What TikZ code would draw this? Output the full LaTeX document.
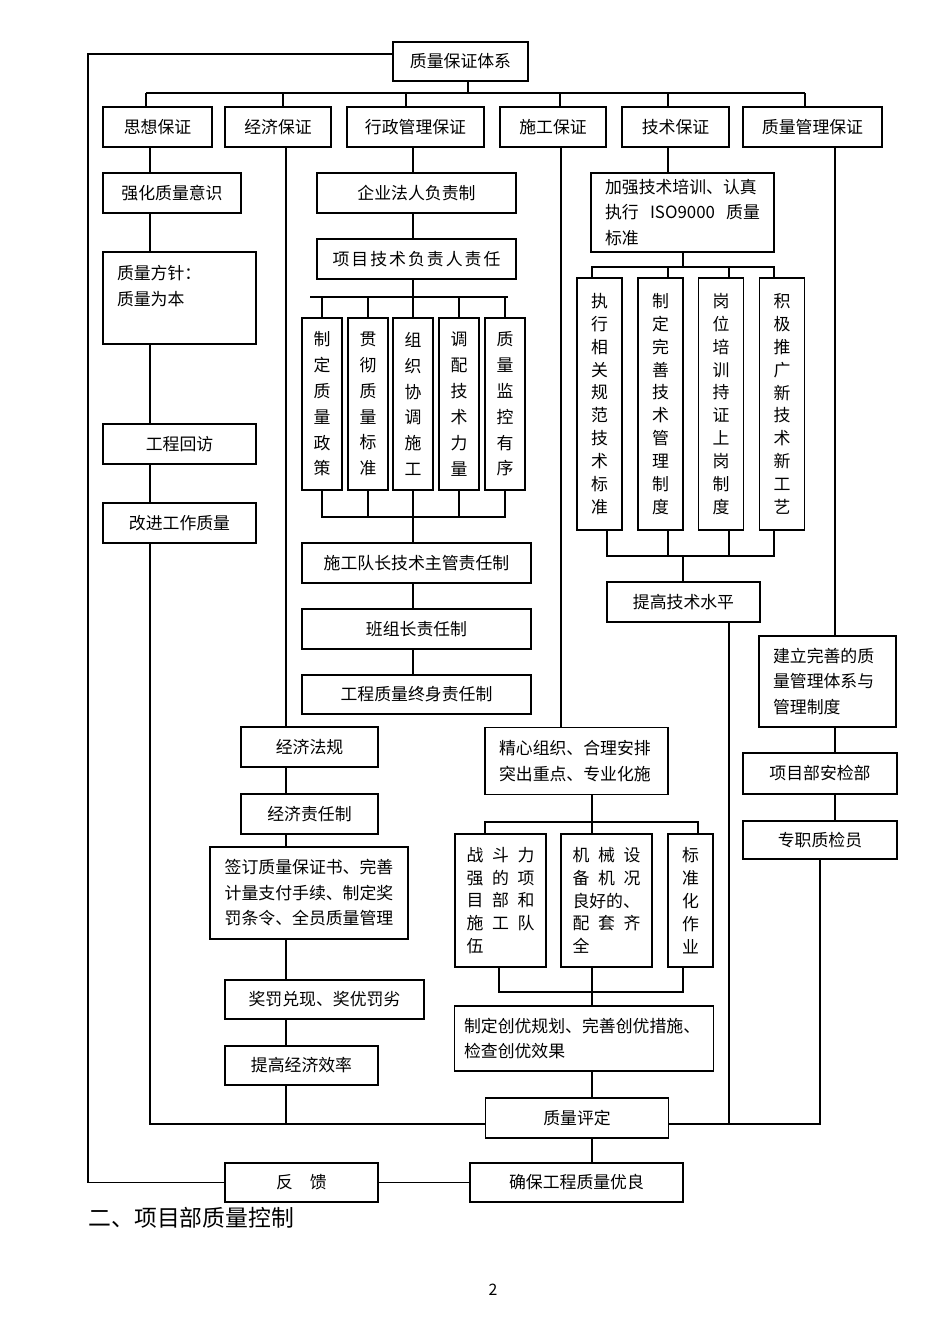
\documentclass[tikz,border=0pt]{standalone}
\usepackage{fontspec}
\setmainfont{Noto Sans CJK SC}
\usetikzlibrary{calc}

\begin{document}
\begin{tikzpicture}[x=0.02cm,y=-0.02cm,line width=0.7pt,
    box/.style={draw,inner sep=0pt,align=center,font=\fontsize{9.6}{14.5}\selectfont},
    wh/.style 2 args={minimum width=#1*0.02cm,minimum height=#2*0.02cm},
    colbox/.style={box,wh={40}{172},font=\fontsize{9.6}{14.7}\selectfont},
    techbox/.style={box,wh={45}{252},font=\fontsize{9.6}{13}\selectfont},
    subbox/.style={box,wh={91}{133},align=left,text width=1.36cm,font=\fontsize{9.6}{13}\selectfont}]
  \useasboundingbox (0,0) rectangle (950,1344);

  % top rows
  \node[box,wh={135}{39}] (top) at (460.5,61.5) {质量保证体系};
  \node[box,wh={109}{40}] (sx) at (157.5,127) {思想保证};
  \node[box,wh={106}{40}] (jj) at (278,127) {经济保证};
  \node[box,wh={137}{40}] (xz) at (415.5,127) {行政管理保证};
  \node[box,wh={106}{40}] (sg) at (553,127) {施工保证};
  \node[box,wh={107}{40}] (js) at (675.5,127) {技术保证};
  \node[box,wh={139}{40}] (zg) at (812.5,127) {质量管理保证};

  % left column
  \node[box,wh={138}{40}] (qh) at (172,193) {强化质量意识};
  \node[box,wh={153}{92},align=left,text width=2.5cm] (fz) at (179.5,298) {质量方针：\\质量为本\\\mbox{}};
  \node[box,wh={153}{40}] (hf) at (179.5,444) {工程回访};
  \node[box,wh={153}{40}] (gj) at (179.5,523) {改进工作质量};

  % economy
  \node[box,wh={137}{40}] (jf) at (309.5,747) {经济法规};
  \node[box,wh={137}{40}] (jr) at (309.5,814) {经济责任制};
  \node[box,wh={198}{92},text width=3.5cm] (qd) at (309,893) {签订质量保证书、完善\\计量支付手续、制定奖\\罚条令、全员质量管理};
  \node[box,wh={199}{39}] (jc) at (324.5,999.5) {奖罚兑现、奖优罚劣};
  \node[box,wh={153}{39}] (tx) at (301.5,1065.5) {提高经济效率};

  % administration
  \node[box,wh={199}{40}] (qy) at (416.5,193) {企业法人负责制};
  \node[box,wh={199}{40}] (xm) at (416.5,259) {\addfontfeature{LetterSpace=12}项目技术负责人责任};
  \foreach \i/\x/\t in {1/322/{制\\定\\质\\量\\政\\策},2/368/{贯\\彻\\质\\量\\标\\准},
      3/413/{组\\织\\协\\调\\施\\工},4/459/{调\\配\\技\\术\\力\\量},5/505/{质\\量\\监\\控\\有\\序}}
    \node[colbox] (a\i) at (\x,404) {\t};
  \node[box,wh={229}{40}] (sd) at (416.5,563) {施工队长技术主管责任制};
  \node[box,wh={229}{40}] (bz) at (416.5,629) {班组长责任制};
  \node[box,wh={229}{39}] (zs) at (416.5,694.5) {工程质量终身责任制};

  % construction
  \node[box,wh={183}{67},align=left,text width=3.1cm] (jx) at (576.5,761) {精心组织、合理安排\\突出重点、专业化施};
  \node[subbox] (z1) at (500.5,900.5) {战\hfill 斗\hfill 力\\强\hfill 的\hfill 项\\目\hfill 部\hfill 和\\施\hfill 工\hfill 队\\伍};
  \node[subbox] (z2) at (606.5,900.5) {机\hfill 械\hfill 设\\备\hfill 机\hfill 况\\良好的、\\配\hfill 套\hfill 齐\\全};
  \node[box,wh={45}{133},font=\fontsize{9.6}{13}\selectfont] (z3) at (690.5,900.5) {标\\准\\化\\作\\业};
  \node[box,wh={259}{65},align=left,text width=4.8cm] (cy) at (584,1038.5) {制定创优规划、完善创优措施、\\检查创优效果};
  \node[box,wh={183}{40}] (pd) at (577,1118) {质量评定};
  \node[box,wh={213}{39}] (qb) at (576.5,1182.5) {确保工程质量优良};
  \node[box,wh={153}{39}] (fk) at (301.5,1182.5) {反\hspace{1em}馈};

  % technology
  \node[box,wh={183}{79},align=left,text width=3.1cm] (jq) at (682.5,212.5) {加强技术培训、认真\\执行\hfill ISO9000\hfill 质量\\标准};
  \foreach \i/\x/\t in {1/599.5/{执\\行\\相\\关\\规\\范\\技\\术\\标\\准},2/660.5/{制\\定\\完\\善\\技\\术\\管\\理\\制\\度},
      3/721/{岗\\位\\培\\训\\持\\证\\上\\岗\\制\\度},4/782/{积\\极\\推\\广\\新\\技\\术\\新\\工\\艺}}
    \node[techbox] (t\i) at (\x,404) {\t};
  \node[box,wh={153}{40}] (tj) at (683.5,602) {提高技术水平};

  % quality management
  \node[box,wh={137}{91},align=left,text width=2.18cm] (jl) at (827.5,681.5) {建立完善的质\\量管理体系与\\管理制度};
  \node[box,wh={154}{41}] (aj) at (820,773.5) {项目部安检部};
  \node[box,wh={154}{38}] (zz) at (820,840) {专职质检员};

  \node[anchor=west,inner sep=0pt,font=\fontsize{13}{13}\selectfont] (sec) at (88,1218) {二、项目部质量控制};
  \node[font=\fontsize{9}{9}\selectfont] (pg) at (493,1290) {2};

  % columns
  \coordinate (cA) at (150,0);
  \coordinate (cB) at (286,0);
  \coordinate (cC) at (413,0);
  \coordinate (cD) at (561,0);
  \coordinate (cD2) at (592,0);
  \coordinate (cE) at (668,0);
  \coordinate (cE2) at (683,0);
  \coordinate (cE3) at (729,0);
  \coordinate (cF) at (835,0);
  \coordinate (pw) at ($(pd.west)+(0,6)$);
  \coordinate (pe) at ($(pd.east)+(0,6)$);

  % top bus
  \foreach \n/\x in {sx/146,jj/283,xz/406,sg/560,js/668,zg/805}{
    \coordinate (d\n) at (\x,93);
    \draw (d\n) -- (d\n |- \n.north);
  }
  \coordinate (dtop) at (468,93);
  \draw (dtop |- top.south) -- (dtop);
  \draw (dsx) -- (dzg);

  % left
  \draw (sx.south -| cA) -- (qh.north -| cA) (qh.south -| cA) -- (fz.north -| cA)
    (fz.south -| cA) -- (hf.north -| cA) (hf.south -| cA) -- (gj.north -| cA);
  \draw (gj.south -| cA) |- (pw);

  % economy
  \draw (jj.south -| cB) -- (jf.north -| cB) (jf.south -| cB) -- (jr.north -| cB)
    (jr.south -| cB) -- (qd.north -| cB) (qd.south -| cB) -- (jc.north -| cB)
    (jc.south -| cB) -- (tx.north -| cB) (tx.south -| cB) -- (cB |- pw);

  % administration
  \coordinate (ab0) at (310,297);
  \coordinate (ab1) at (508,297);
  \coordinate (ac) at (0,517);
  \draw (xz.south -| cC) -- (qy.north -| cC) (qy.south -| cC) -- (xm.north -| cC)
    (xm.south -| cC) -- (a3.north);
  \draw (ab0) -- (ab1);
  \foreach \i in {1,2,4,5} \draw (a\i.north) -- (a\i.north |- ab0);
  \draw (a1.south) -- (a1.south |- ac) -| (a5.south);
  \foreach \i in {2,4} \draw (a\i.south) -- (a\i.south |- ac);
  \draw (a3.south) -- (sd.north -| cC) (sd.south -| cC) -- (bz.north -| cC)
    (bz.south -| cC) -- (zs.north -| cC);

  % construction
  \coordinate (cb0) at (485,822);
  \coordinate (cb1) at (698,822);
  \coordinate (cc0) at (499,992);
  \coordinate (cc1) at (683,992);
  \draw (sg.south -| cD) -- (jx.north -| cD);
  \draw (jx.south -| cD2) -- (cD2 |- cb0);
  \draw (cb0 |- z1.north) -- (cb0) -- (cb1) -- (cb1 |- z3.north);
  \draw (cD2 |- cb0) -- (z2.north -| cD2);
  \draw (cc0 |- z1.south) -- (cc0) -- (cc1) -- (cc1 |- z3.south);
  \draw (z2.south -| cD2) -- (cy.north -| cD2) (cy.south -| cD2) -- (pd.north -| cD2)
    (pd.south -| cD2) -- (qb.north -| cD2);

  % technology
  \coordinate (tb0) at (592,267);
  \coordinate (tb1) at (774,267);
  \coordinate (td0) at (607,556);
  \coordinate (td1) at (774,556);
  \draw (js.south -| cE) -- (jq.north -| cE);
  \draw (jq.south -| cE2) -- (cE2 |- tb0);
  \draw (tb0 |- t1.north) -- (tb0) -- (tb1) -- (tb1 |- t4.north);
  \draw (cE |- tb0) -- (t2.north -| cE) (cE3 |- tb0) -- (t3.north -| cE3);
  \draw (td0 |- t1.south) -- (td0) -- (td1) -- (td1 |- t4.south);
  \draw (t2.south -| cE) -- (cE |- td0) (t3.south -| cE3) -- (cE3 |- td0);
  \draw (cE2 |- td0) -- (tj.north -| cE2);
  \draw (tj.south -| cE3) -- (cE3 |- pe);

  % quality management
  \draw (zg.south -| cF) -- (jl.north -| cF) (jl.south -| cF) -- (aj.north -| cF)
    (aj.south -| cF) -- (zz.north -| cF);
  \draw (pe) -| (zz.south);

  % feedback loop
  \coordinate (lp) at (88,54);
  \draw (qb.west) -- (fk.east);
  \draw (fk.west) -| (lp) -- (lp -| top.west);
\end{tikzpicture}
\end{document}
